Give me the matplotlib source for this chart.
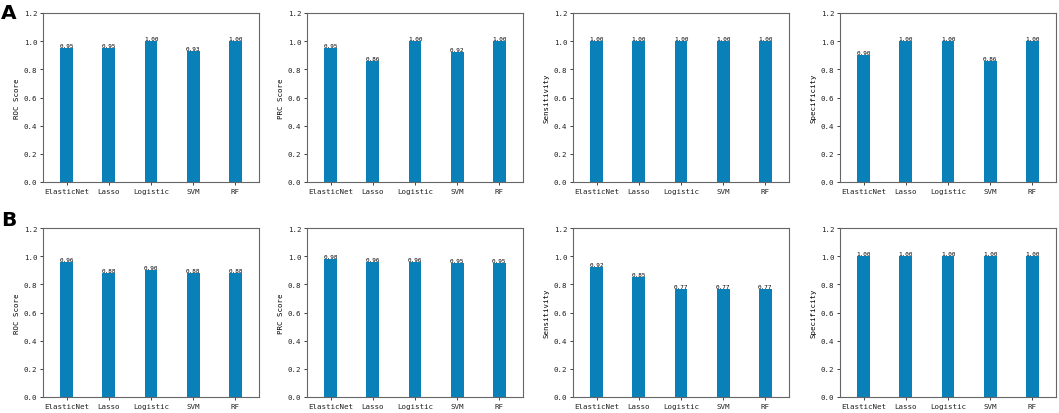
import numpy as np
import matplotlib.pyplot as plt

plt.rcParams['font.family'] = ['DejaVu Sans Mono']

models = ['ElasticNet', 'Lasso', 'Logistic', 'SVM', 'RF']
metrics = ['ROC Score', 'PRC Score', 'Sensitivity', 'Specificity']

# row A
roc_a = [0.95, 0.95, 1.00, 0.93, 1.00]
prc_a = [0.95, 0.86, 1.00, 0.92, 1.00]
sens_a = [1.00, 1.00, 1.00, 1.00, 1.00]
spec_a = [0.90, 1.00, 1.00, 0.86, 1.00]

# row B
roc_b = [0.96, 0.88, 0.90, 0.88, 0.88]
prc_b = [0.98, 0.96, 0.96, 0.95, 0.95]
sens_b = [0.92, 0.85, 0.77, 0.77, 0.77]
spec_b = [1.00, 1.00, 1.00, 1.00, 1.00]

rows = [[roc_a, prc_a, sens_a, spec_a], [roc_b, prc_b, sens_b, spec_b]]
row_letters = ['A', 'B']

W, H = 1059, 414
fig = plt.figure(figsize=(W / 100, H / 100), dpi=100)

lefts = [43, 307, 573, 840]
axw = 216
tops = [14, 229]
axh = 169
letter_y = [4, 211]

x = np.arange(len(models))
for r in range(2):
    for c in range(4):
        ax = fig.add_axes([lefts[c] / W, 1 - (tops[r] + axh) / H, axw / W, axh / H])
        vals = rows[r][c]
        ax.bar(x, vals, width=0.3, color='#0a80b8')
        for xi, v in zip(x, vals):
            ax.text(xi, v, '%.2f' % v, ha='center', va='bottom', fontsize=4.3)
        ax.set_xlim(-0.56, 4.56)
        ax.set_ylim(0, 1.2)
        ax.set_yticks(np.arange(0, 1.21, 0.2))
        ax.set_xticks(x)
        ax.set_xticklabels(models, fontsize=5.4)
        ax.tick_params(axis='y', labelsize=5.4)
        ax.tick_params(length=2.5, width=0.6, pad=1.5, colors='#222222')
        ax.set_ylabel(metrics[c], fontsize=5.3, labelpad=3)
        for s in ax.spines.values():
            s.set_color('#666666')
            s.set_linewidth(0.8)
    fig.text(1 / W, 1 - letter_y[r] / H, row_letters[r], fontsize=14.5,
             fontweight='bold', family='DejaVu Sans', va='top')

fig.savefig('out.png', dpi=100)
